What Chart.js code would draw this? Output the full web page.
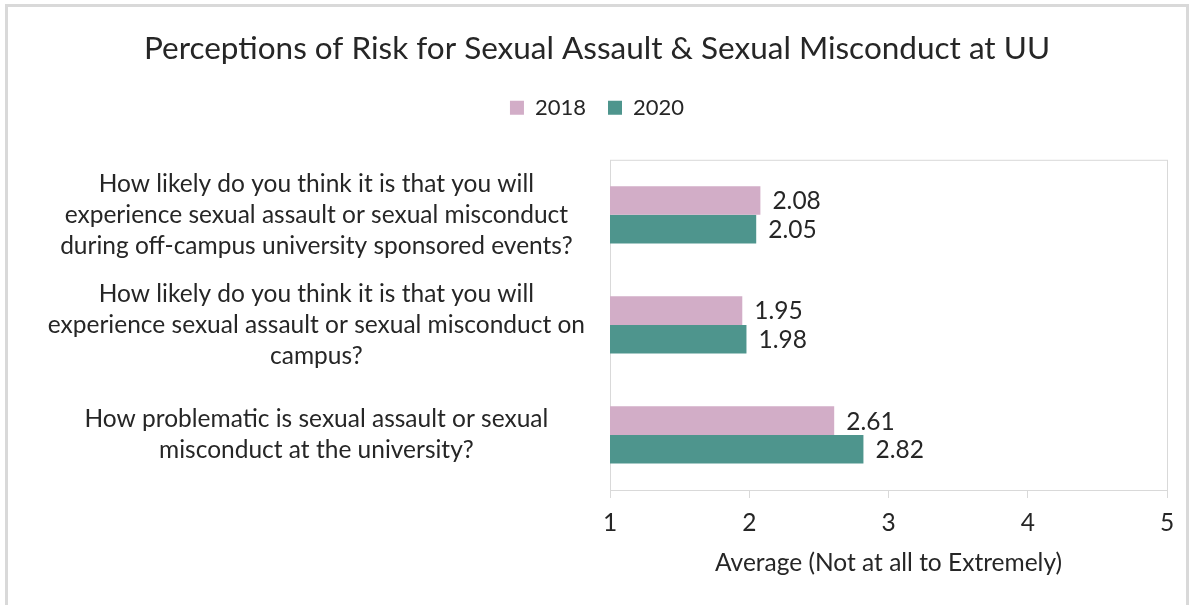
<!DOCTYPE html>
<html lang="en">
<head>
<meta charset="UTF-8">
<title>Perceptions of Risk for Sexual Assault &amp; Sexual Misconduct at UU</title>
<script src="https://cdn.jsdelivr.net/npm/chart.js"></script>
<style>
    html, body { margin: 0; padding: 0; background: #fff; }
    #wrap { position: relative; width: 1194px; height: 605px; }
</style>
</head>
<body>
<div id="wrap"><canvas id="riskChart" width="1194" height="605"></canvas></div>
<script>
    // survey questions, one per bar group (lines as shown on the axis)
    const questions = [
        ["How likely do you think it is that you will", "experience sexual assault or sexual misconduct", "during off-campus university sponsored events?"],
        ["How likely do you think it is that you will", "experience sexual assault or sexual misconduct on", "campus?"],
        ["How problematic is sexual assault or sexual", "misconduct at the university?"]
    ];
    const seriesNames = ["2018", "2020"];
    const values2018 = [2.08, 1.95, 2.61];
    const values2020 = [2.05, 1.98, 2.82];
    const xTicks = [1, 2, 3, 4, 5];

    const FONT = "Lato, 'Open Sans', sans-serif";
    const TEXT = "#262626";
    const LINE = "#d9d9d9";
    const LABEL_SIZE = 24.5;

    // plot box + outer frame
    const frames = {
        id: 'frames',
        beforeDraw(chart) {
            const c = chart.ctx, a = chart.chartArea;
            c.save();
            c.strokeStyle = LINE;
            c.lineWidth = 3;
            c.strokeRect(6.5, 5.5, 1181, 620);
            c.lineWidth = 1;
            c.strokeRect(a.left + 0.5, a.top + 0.5, a.right - a.left, a.bottom - a.top);
            c.restore();
        }
    };

    // value labels to the right of each bar
    const barValues = {
        id: 'barValues',
        afterDatasetsDraw(chart) {
            const c = chart.ctx;
            c.save();
            c.font = LABEL_SIZE + "px " + FONT;
            c.fillStyle = TEXT;
            c.textAlign = 'left';
            c.textBaseline = 'middle';
            chart.data.datasets.forEach((ds, i) => {
                chart.getDatasetMeta(i).data.forEach((bar, j) => {
                    c.fillText(ds.data[j].toFixed(2), bar.x + 12, bar.y + 1);
                });
            });
            c.restore();
        }
    };

    new Chart(document.getElementById('riskChart'), {
        type: 'bar',
        data: {
            labels: questions,
            datasets: [
                { label: seriesNames[0], data: values2018, backgroundColor: '#d2adc7' },
                { label: seriesNames[1], data: values2020, backgroundColor: '#4e958d' }
            ]
        },
        options: {
            indexAxis: 'y',
            responsive: false,
            animation: false,
            categoryPercentage: 0.52,
            barPercentage: 1.0,
            layout: { padding: { left: 27, right: 27, top: 0, bottom: 0 } },
            plugins: {
                title: {
                    display: true,
                    text: 'Perceptions of Risk for Sexual Assault & Sexual Misconduct at UU',
                    color: TEXT,
                    font: { family: FONT, size: 31.5, weight: 'normal' },
                    padding: { top: 30, bottom: 7 }
                },
                // empty spacer between legend and plot
                subtitle: {
                    display: true,
                    text: '',
                    weight: 500,
                    font: { size: 10, lineHeight: 1 },
                    padding: { top: 21, bottom: 0 }
                },
                legend: {
                    position: 'top',
                    labels: {
                        color: TEXT,
                        font: { family: FONT, size: 22 },
                        boxWidth: 14,
                        boxHeight: 14,
                        padding: 22
                    }
                },
                tooltip: { enabled: false }
            },
            scales: {
                x: {
                    min: 1,
                    max: 5,
                    afterBuildTicks(scale) { scale.ticks = xTicks.map(v => ({ value: v })); },
                    afterFit(scale) { scale.height = 115; },
                    grid: { drawOnChartArea: false, color: LINE, tickLength: 8 },
                    border: { color: LINE },
                    ticks: { color: TEXT, font: { family: FONT, size: LABEL_SIZE }, padding: 10 },
                    title: {
                        display: true,
                        text: 'Average (Not at all to Extremely)',
                        color: TEXT,
                        font: { family: FONT, size: LABEL_SIZE },
                        padding: { top: 0, bottom: 27 }
                    }
                },
                y: {
                    afterFit(scale) { scale.width = 583; },
                    grid: { display: false, drawTicks: false },
                    border: { display: false },
                    ticks: {
                        color: TEXT,
                        font: { family: FONT, size: LABEL_SIZE, lineHeight: 1.27 },
                        crossAlign: 'center',
                        padding: 25
                    }
                }
            }
        },
        plugins: [frames, barValues]
    });
</script>
</body>
</html>
